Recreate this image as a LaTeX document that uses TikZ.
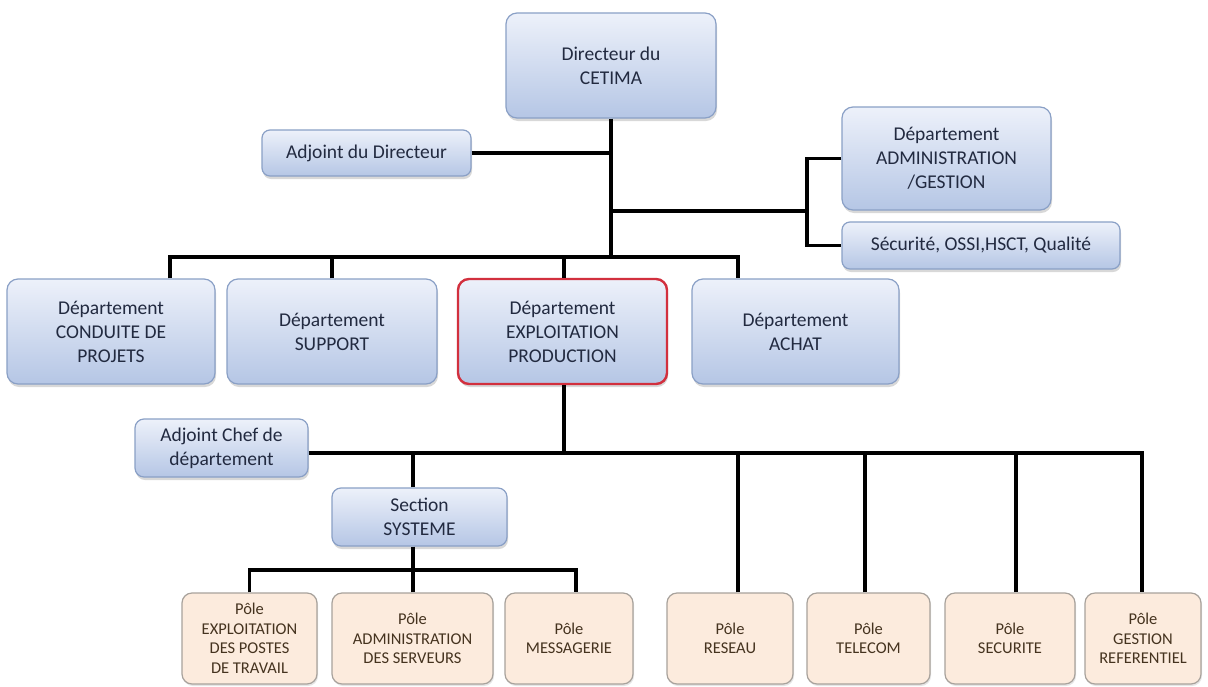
\documentclass[tikz,border=0pt]{standalone}
\usepackage{fontspec}
\setmainfont{Carlito}
\usetikzlibrary{shadows,calc}
\definecolor{bluetop}{HTML}{EDF1FA}
\definecolor{bluebot}{HTML}{B5C6E5}
\definecolor{blueedge}{HTML}{8AA0C6}
\definecolor{bluetext}{HTML}{222A40}
\definecolor{peach}{HTML}{FCEBDD}
\definecolor{peachedge}{HTML}{A8A29C}
\definecolor{browntext}{HTML}{45331F}
\definecolor{redge}{HTML}{D2303E}
\begin{document}
\begin{tikzpicture}[x=1pt,y=-1pt,
  bluebox/.style={rectangle, rounded corners=11pt, draw=blueedge, line width=1.2pt,
    top color=bluetop, bottom color=bluebot, text=bluetext, align=center, inner sep=0pt,
    font=\fontsize{19.5}{24}\selectfont,
    drop shadow={shadow xshift=1pt, shadow yshift=-3pt, opacity=0.3, fill=black!50}},
  polebox/.style={rectangle, rounded corners=10pt, draw=peachedge, line width=1.2pt,
    fill=peach, text=browntext, align=center, inner sep=0pt,
    font=\fontsize{16.5}{19.5}\selectfont,
    minimum height=91pt,
    drop shadow={shadow xshift=1pt, shadow yshift=-2pt, opacity=0.2, fill=black!50}},
  conn/.style={line width=3.3pt, black}]
\fill[white] (0,0) rectangle (1208,686);
\useasboundingbox (0,0) rectangle (1208,686);

% nodes
\node[bluebox, minimum width=210pt, minimum height=105pt] (dir) at (611,65.5) {Directeur du\\CETIMA};
\node[bluebox, minimum width=209pt, minimum height=46pt, rounded corners=8pt] (adj) at (366.5,153) {Adjoint du Directeur};
\node[bluebox, minimum width=209pt, minimum height=103pt] (admin) at (946.5,158.5) {Département\\ADMINISTRATION\\/GESTION};
\node[bluebox, minimum width=278pt, minimum height=47pt, rounded corners=8pt] (secu) at (981,245.5) {Sécurité, OSSI,HSCT, Qualité};

\node[bluebox, minimum width=208pt, minimum height=105pt] (cond) at (111,331.5) {Département\\CONDUITE DE\\PROJETS};
\node[bluebox, minimum width=210pt, minimum height=105pt] (supp) at (332,331.5) {Département\\SUPPORT};
\node[bluebox, draw=redge, line width=2.4pt, minimum width=209pt, minimum height=105pt] (expl) at (562.5,331.5) {Département\\EXPLOITATION\\PRODUCTION};
\node[bluebox, minimum width=207pt, minimum height=105pt] (achat) at (795.5,331.5) {Département\\ACHAT};

\node[bluebox, minimum width=173pt, minimum height=58pt, rounded corners=9pt] (adjchef) at (221.5,448) {Adjoint Chef de\\département};
\node[bluebox, minimum width=175pt, minimum height=58pt, rounded corners=9pt] (section) at (419.5,517) {Section\\SYSTEME};

\node[polebox, minimum width=135pt] (p1) at (249.5,638.5) {Pôle\\EXPLOITATION\\DES POSTES\\DE TRAVAIL};
\node[polebox, minimum width=161pt] (p2) at (412.5,638.5) {Pôle\\ADMINISTRATION\\DES SERVEURS};
\node[polebox, minimum width=128pt] (p3) at (569,638.5) {Pôle\\MESSAGERIE};
\node[polebox, minimum width=126pt] (p4) at (730,638.5) {Pôle\\RESEAU};
\node[polebox, minimum width=123pt] (p5) at (868.5,638.5) {Pôle\\TELECOM};
\node[polebox, minimum width=130pt] (p6) at (1010,638.5) {Pôle\\SECURITE};
\node[polebox, minimum width=116pt] (p7) at (1143,638.5) {Pôle\\GESTION\\REFERENTIEL};

% bus coordinates
\coordinate (bus1) at (611,257);
\coordinate (rb) at (807,211);
\coordinate (bus2) at (564,453);
\coordinate (bus3) at (413,570);

% connectors (top)
\draw[conn] (dir.south) -- (bus1);
\draw[conn] (adj.east) -- (adj.east -| dir.south);
\draw[conn] (dir.south |- rb) -- (rb);
\draw[conn] (admin.west) -| (rb) |- (secu.west);
\draw[conn] ([xshift=59pt]cond.north) |- (bus1) -| ([xshift=-57.5pt]achat.north);
\draw[conn] (supp.north) -- (supp.north |- bus1);
\draw[conn] ([xshift=1.5pt]expl.north) -- ([xshift=1.5pt]expl.north |- bus1);

% connectors (middle)
\draw[conn] ([xshift=1.5pt]expl.south) -- (bus2);
\draw[conn] (adjchef.east |- bus2) -| ([xshift=-1pt]p7.north);
\draw[conn] ([xshift=8pt]p4.north) -- ([xshift=8pt]p4.north |- bus2);
\draw[conn] ([xshift=-3.5pt]p5.north) -- ([xshift=-3.5pt]p5.north |- bus2);
\draw[conn] ([xshift=6pt]p6.north) -- ([xshift=6pt]p6.north |- bus2);
\draw[conn] ([xshift=-6.5pt]section.north) -- ([xshift=-6.5pt]section.north |- bus2);

% connectors (section)
\draw[conn] ([xshift=-6.5pt]section.south) -- (bus3);
\draw[conn] (p1.north) |- (bus3) -| ([xshift=7pt]p3.north);
\draw[conn] (p2.north -| bus3) -- (bus3);
\end{tikzpicture}
\end{document}
